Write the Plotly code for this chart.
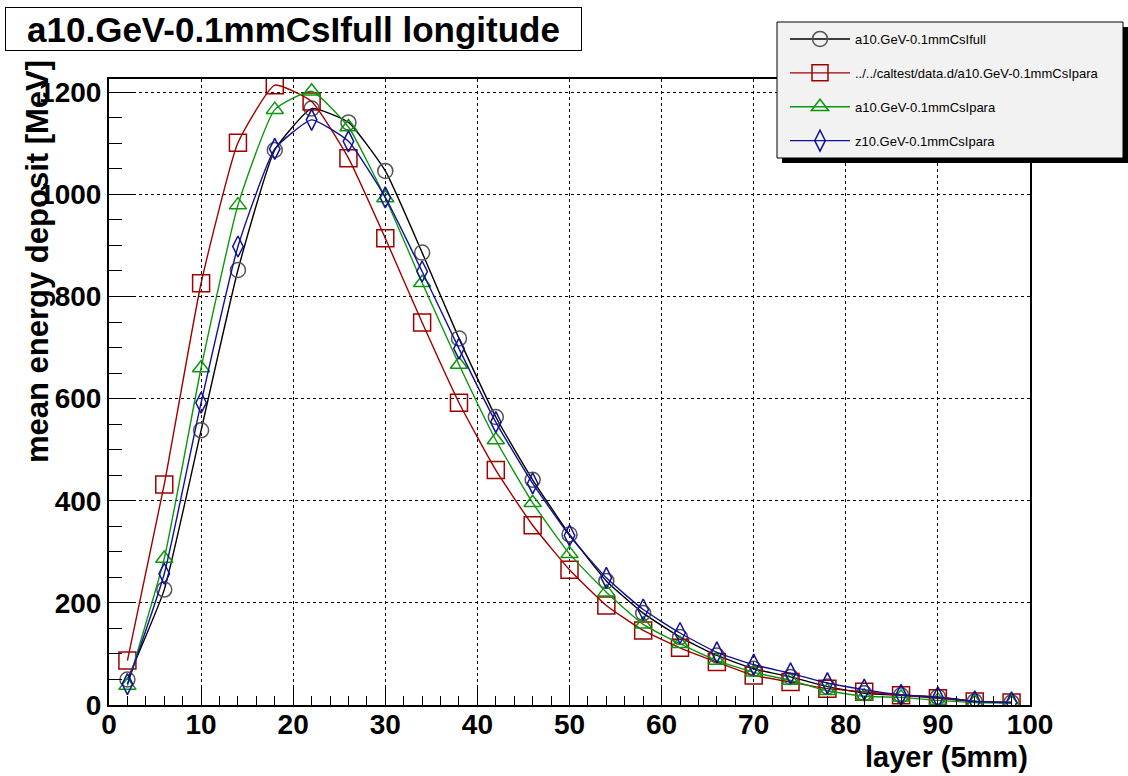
import plotly.graph_objects as go

# ---------------- data ----------------
layers = [2, 6, 10, 14, 18, 22, 26, 30, 34, 38, 42, 46, 50, 54, 58, 62, 66, 70, 74, 78, 82, 86, 90, 94, 98]

full_a10 = [50, 226, 538, 852, 1087, 1168, 1141, 1046, 886, 718, 564, 441, 334, 243, 180, 133, 97, 71, 55, 36, 23, 19, 16, 7, 5]
para_caltest = [87, 432, 826, 1101, 1214, 1182, 1071, 914, 749, 592, 460, 352, 265, 195, 146, 112, 84, 58, 45, 32, 26, 19, 13, 7, 5]
para_a10 = [38, 287, 660, 979, 1166, 1202, 1132, 993, 827, 667, 519, 396, 296, 221, 158, 120, 87, 64, 48, 28, 17, 15, 9, 5, 4]
para_z10 = [41, 257, 592, 898, 1089, 1146, 1104, 994, 849, 698, 554, 434, 332, 249, 187, 141, 103, 79, 62, 43, 30, 20, 15, 7, 5]

series_names = [
    "a10.GeV-0.1mmCsIfull",
    "../../caltest/data.d/a10.GeV-0.1mmCsIpara",
    "a10.GeV-0.1mmCsIpara",
    "z10.GeV-0.1mmCsIpara",
]
series_values = [full_a10, para_caltest, para_a10, para_z10]
line_colors = ["#000000", "#a00000", "#0c960c", "#10109a"]
marker_colors = ["#555555", "#a00000", "#0c960c", "#10109a"]
marker_symbols = ["circle-open", "square-open", "triangle-up-open", "diamond-tall-open"]
marker_sizes = [15, 17, 15, 15]

title_text = "a10.GeV-0.1mmCsIfull longitude"
x_title = "layer (5mm)"
y_title = "mean energy deposit [MeV]"
x_ticks = [0, 10, 20, 30, 40, 50, 60, 70, 80, 90, 100]
y_ticks = [0, 200, 400, 600, 800, 1000, 1200]

# ---------------- layout geometry (pixels) ----------------
W, H = 1128, 776
L, R, T, B = 109, 1030, 79, 705
FONT = "Liberation Sans, Arial, Helvetica, sans-serif"


def px(xp):
    return (xp - L) / (R - L)


def py(yp):
    return (B - yp) / (B - T)


fig = go.Figure()
for name, vals, lc, mc, sym, ms in zip(series_names, series_values, line_colors,
                                       marker_colors, marker_symbols, marker_sizes):
    fig.add_trace(go.Scatter(
        x=layers, y=vals, name=name, mode="lines+markers",
        legendgroup=name,
        line=dict(color=lc, width=1.4, shape="spline", smoothing=0.45),
        marker=dict(symbol=sym, size=ms, color=mc, line=dict(color=mc, width=1.5)),
    ))

axis_common = dict(
    showline=True, linecolor="black", linewidth=2, mirror=True,
    showgrid=True, gridcolor="black", gridwidth=1, griddash="dot",
    zeroline=False, ticks="inside", tickcolor="black", tickwidth=1,
    tickfont=dict(family=FONT, size=28, color="black", weight="bold"),
)

fig.update_xaxes(
    range=[0, 100], tickvals=x_ticks, ticktext=[str(v) for v in x_ticks], ticklen=19,
    ticklabelstandoff=-7,
    minor=dict(dtick=2, ticks="inside", ticklen=9, tickcolor="black", tickwidth=1, showgrid=False),
    **axis_common,
)
fig.update_yaxes(
    range=[0, 1226], tickvals=y_ticks, ticktext=[str(v) for v in y_ticks], ticklen=26,
    minor=dict(dtick=50, ticks="inside", ticklen=13, tickcolor="black", tickwidth=1, showgrid=False),
    **axis_common,
)

shapes = [
    # legend shadow
    dict(type="rect", xref="paper", yref="paper", layer="above",
         x0=px(782), x1=px(1128), y0=py(163), y1=py(27),
         fillcolor="black", line=dict(width=0)),
    # legend box
    dict(type="rect", xref="paper", yref="paper", layer="above",
         x0=px(777), x1=px(1123), y0=py(158), y1=py(22),
         fillcolor="#f2f2f2", line=dict(color="black", width=1)),
]

annotations = [
    dict(text=title_text, xref="paper", yref="paper", x=px(293.5), y=py(28.5),
         xanchor="center", yanchor="middle", showarrow=False,
         font=dict(family=FONT, size=35, color="black", weight="bold"),
         bordercolor="black", borderwidth=1, borderpad=0, bgcolor="white",
         width=575, height=42),
    dict(text=x_title, xref="paper", yref="paper", x=1.0, y=py(757),
         xanchor="right", yanchor="middle", showarrow=False,
         font=dict(family=FONT, size=29, color="black", weight="bold")),
    dict(text=y_title, xref="paper", yref="paper", x=px(37), y=py(262),
         xanchor="center", yanchor="middle", showarrow=False, textangle=-90,
         font=dict(family=FONT, size=31, color="black", weight="bold")),
]

fig.update_layout(
    width=W, height=H,
    margin=dict(l=L, r=W - R, t=T, b=H - B, pad=0),
    paper_bgcolor="white", plot_bgcolor="white",
    showlegend=True,
    legend=dict(
        x=px(785), y=py(24), xanchor="left", yanchor="top",
        bgcolor="rgba(0,0,0,0)", borderwidth=0,
        font=dict(family=FONT, size=13, color="black"),
        traceorder="grouped", tracegroupgap=14, itemwidth=60,
    ),
    shapes=shapes, annotations=annotations,
)

fig.write_html("out.html")
